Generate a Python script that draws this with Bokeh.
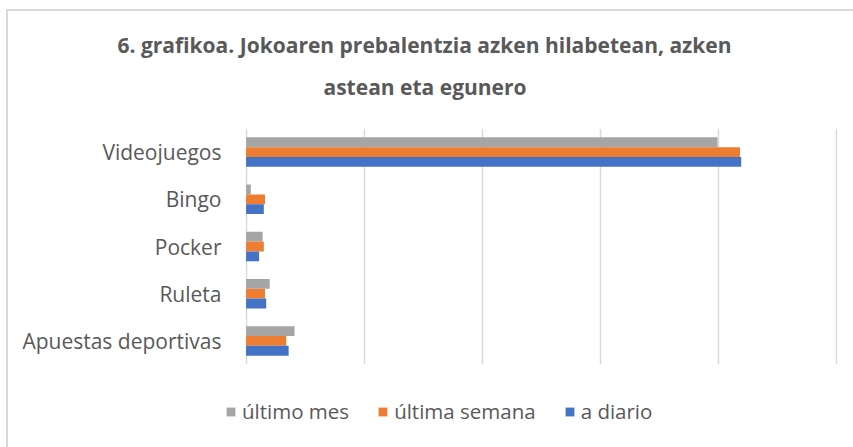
from bokeh.plotting import figure
from bokeh.models import ColumnDataSource, Range1d, FixedTicker, Legend, LegendItem, Title
from bokeh.layouts import column
from bokeh.transform import dodge
from bokeh.embed import file_html
from bokeh.resources import INLINE

categories = ["Videojuegos", "Bingo", "Pocker", "Ruleta", "Apuestas deportivas"]
ultimo_mes = [39.9, 0.4, 1.4, 2.0, 4.1]
ultima_semana = [41.8, 1.6, 1.5, 1.6, 3.4]
a_diario = [41.9, 1.5, 1.1, 1.7, 3.6]
series_names = ["último mes", "última semana", "a diario"]
series_colors = ["#A5A5A5", "#ED7D31", "#4472C4"]
x_ticks = [0, 10, 20, 30, 40, 50]
title_lines = ["6. grafikoa. Jokoaren prebalentzia azken hilabetean, azken", "astean eta egunero"]

FONT = "Open Sans"
TXT = "#595959"

source = ColumnDataSource(dict(cat=categories, m=ultimo_mes, s=ultima_semana, d=a_diario))

p = figure(width=845, height=374,
           y_range=list(reversed(categories)),
           x_range=Range1d(x_ticks[0] - 0.05, x_ticks[-1] + 0.05),
           x_axis_location=None,
           output_backend="svg", toolbar_location=None,
           min_border_left=237, min_border_right=16, min_border_top=117, min_border_bottom=21)

bh = 0.208
renderers = []
for col, off, color in zip(["m", "s", "d"], [bh, 0.0, -bh], series_colors):
    r = p.hbar(y=dodge("cat", off, range=p.y_range), right=col, left=0, height=bh,
               source=source, fill_color=color, line_color=None)
    renderers.append(r)

p.outline_line_color = None
p.ygrid.grid_line_color = None
p.xgrid.ticker = FixedTicker(ticks=x_ticks)
p.xgrid.grid_line_color = "#D9D9D9"
p.xgrid.grid_line_width = 1.5

p.yaxis.axis_line_color = None
p.yaxis.major_tick_line_color = None
p.yaxis.minor_tick_line_color = None
p.yaxis.major_tick_out = 0
p.yaxis.major_label_standoff = 24
p.yaxis.major_label_text_font = FONT
p.yaxis.major_label_text_font_size = "21px"
p.yaxis.major_label_text_color = TXT

p.title.text = title_lines[0]
p.title.align = "left"
p.title.offset = -128
p.title.standoff = -32
p.title.text_font = FONT
p.title.text_font_size = "21px"
p.title.text_font_style = "bold"
p.title.text_color = TXT

t2 = Title(text=title_lines[1], align="left", offset=78, text_font=FONT, text_font_size="21px",
           text_font_style="bold", text_color=TXT, standoff=56)
p.add_layout(t2, "above")

# legend strip below the chart
lg = figure(width=845, height=62, x_range=Range1d(0, 1), y_range=Range1d(0, 1),
            x_axis_location=None, y_axis_location=None,
            output_backend="svg", toolbar_location=None,
            min_border_left=0, min_border_right=0, min_border_top=0, min_border_bottom=0)
lg.outline_line_color = None
lg.xgrid.visible = False
lg.ygrid.visible = False

if "frame_align" in lg.properties():
    lg.frame_align = False
    leg_x = 217
else:
    leg_x = 0

swatch_src = ColumnDataSource(dict(y=[0.5], w=[0.0]))
swatches = []
for color in series_colors:
    swatches.append(lg.hbar(y="y", right="w", left=0, height=0.1, source=swatch_src,
                            fill_color=color, line_color=None))

legend = Legend(items=[LegendItem(label=n, renderers=[r]) for n, r in zip(series_names, swatches)],
                orientation="horizontal", location=(leg_x, 22),
                border_line_color=None, background_fill_alpha=0,
                label_text_font=FONT, label_text_font_size="20.5px", label_text_color=TXT,
                glyph_width=11, glyph_height=11, spacing=28, label_standoff=6,
                margin=0, padding=0)
lg.add_layout(legend, "center")

layout = column(p, lg, spacing=0,
                styles={"border-top": "2px solid #D9D9D9", "border-left": "2px solid #D9D9D9",
                        "margin-top": "9px", "margin-left": "6px"})
open("out.html", "w").write(file_html(layout, INLINE))
